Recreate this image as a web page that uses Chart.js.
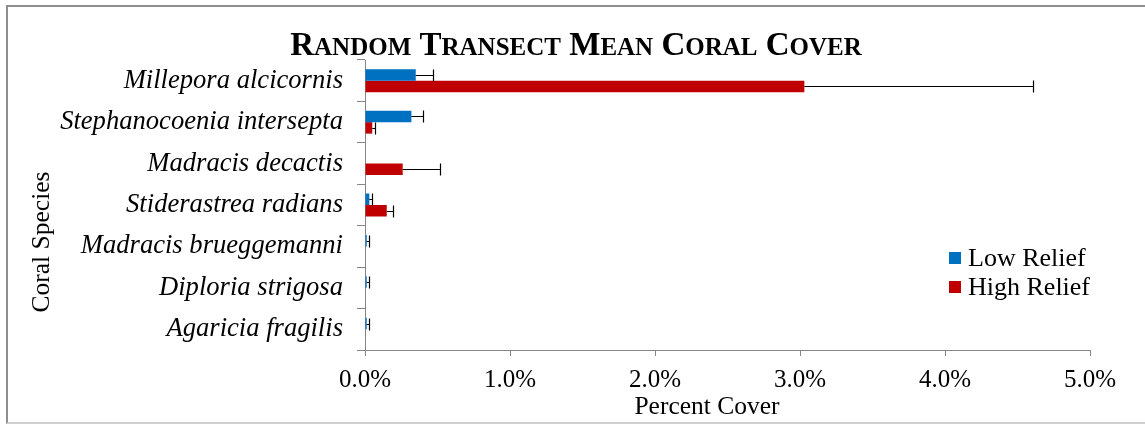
<!DOCTYPE html>
<html lang="en">
<head>
<meta charset="UTF-8">
<title>Random Transect Mean Coral Cover</title>
<script src="https://cdn.jsdelivr.net/npm/chart.js"></script>
<style>
  html, body { margin: 0; padding: 0; background: #fff; }
  #frame { position: absolute; left: 6px; top: 5px; width: 1145px; height: 419px; border: 2px solid #8e8e8e; border-bottom-color: #d0d0d0; box-sizing: border-box; }
  #wrap { position: absolute; left: 0; top: 0; width: 1145px; height: 425px; }
</style>
</head>
<body>
<div id="frame"></div>
<div id="wrap"><canvas id="grafico"></canvas></div>
<script>
// values (percent cover)
const species = ['Millepora alcicornis', 'Stephanocoenia intersepta', 'Madracis decactis',
                 'Stiderastrea radians', 'Madracis brueggemanni', 'Diploria strigosa', 'Agaricia fragilis'];
const lowRelief  = [0.35, 0.32, 0, 0.03, 0.012, 0.012, 0.012];
const lowError   = [0.12, 0.08, null, 0.02, 0.016, 0.016, 0.016];
const highRelief = [3.03, 0.05, 0.26, 0.15, 0, 0, 0];
const highError  = [1.58, 0.02, 0.26, 0.04, null, null, null];
const xTicks = [0, 1, 2, 3, 4, 5];

const serif = "'Liberation Serif', 'Times New Roman', serif";

// positive error bars with caps
const errorBars = {
    id: 'errorBars',
    afterDatasetsDraw(chart) {
        const ctx = chart.ctx;
        const sx = chart.scales.x;
        ctx.save();
        ctx.strokeStyle = '#000';
        ctx.lineWidth = 1.2;
        chart.data.datasets.forEach((ds, i) => {
            chart.getDatasetMeta(i).data.forEach((bar, j) => {
                const e = ds.errors[j];
                if (e == null) return;
                const x0 = sx.getPixelForValue(ds.data[j]);
                const x1 = Math.round(sx.getPixelForValue(ds.data[j] + e)) + 0.5;
                const y = Math.round(bar.y) + 0.5;
                ctx.beginPath();
                ctx.moveTo(x0, y);
                ctx.lineTo(x1, y);
                ctx.moveTo(x1, y - 6);
                ctx.lineTo(x1, y + 6);
                ctx.stroke();
            });
        });
        ctx.restore();
    }
};

// title (small caps), axis titles and legend
const textos = {
    id: 'textos',
    afterDraw(chart) {
        const ctx = chart.ctx;
        ctx.save();
        ctx.fillStyle = '#000';

        // small caps title
        const titulo = 'Random Transect Mean Coral Cover';
        const big = 33, small = Math.round(33 * 0.77);
        const partes = titulo.split('').map(ch => {
            const grande = ch === ' ' || ch === ch.toUpperCase();
            ctx.font = `bold ${grande ? big : small}px ${serif}`;
            const t = ch.toUpperCase();
            return { t, f: ctx.font, w: ctx.measureText(t).width };
        });
        const total = partes.reduce((s, p) => s + p.w, 0);
        let x = 576 - total / 2;
        ctx.textBaseline = 'alphabetic';
        ctx.textAlign = 'left';
        partes.forEach(p => { ctx.font = p.f; ctx.fillText(p.t, x, 55); x += p.w; });

        // axis titles
        ctx.font = `25.5px ${serif}`;
        ctx.textAlign = 'center';
        ctx.textBaseline = 'middle';
        ctx.fillText('Percent Cover', 707, 407);
        ctx.save();
        ctx.translate(42, 242);
        ctx.rotate(-Math.PI / 2);
        ctx.fillText('Coral Species', 0, 0);
        ctx.restore();

        // legend
        ctx.font = `26px ${serif}`;
        ctx.textAlign = 'left';
        chart.data.datasets.forEach((ds, i) => {
            const y = 258 + i * 29;
            ctx.fillStyle = ds.backgroundColor;
            ctx.fillRect(949, y - 6, 12, 12);
            ctx.fillStyle = '#000';
            ctx.fillText(ds.label, 968, y + 1);
        });
        ctx.restore();
    }
};

new Chart(document.getElementById('grafico'), {
    type: 'bar',
    data: {
        labels: species,
        datasets: [
            { label: 'Low Relief', data: lowRelief, errors: lowError, backgroundColor: '#0070C0' },
            { label: 'High Relief', data: highRelief, errors: highError, backgroundColor: '#C00000' }
        ]
    },
    options: {
        indexAxis: 'y',
        responsive: true,
        maintainAspectRatio: false,
        animation: false,
        layout: { padding: { top: 60, right: 55, left: 0, bottom: 0 } },
        datasets: { bar: { categoryPercentage: 0.555, barPercentage: 1 } },
        plugins: { legend: { display: false }, title: { display: false }, tooltip: { enabled: false } },
        scales: {
            x: {
                min: 0,
                max: 5,
                afterFit(scale) { scale.height = 75; },
                afterBuildTicks(scale) { scale.ticks = xTicks.map(v => ({ value: v })); },
                ticks: {
                    color: '#000',
                    padding: 9,
                    font: { family: serif, size: 25 },
                    callback: v => v.toFixed(1) + '%'
                },
                grid: { drawOnChartArea: false, tickLength: 6, color: '#868686' },
                border: { color: '#868686', width: 1 }
            },
            y: {
                afterFit(scale) { scale.width = 365; },
                ticks: {
                    color: '#000',
                    padding: 14,
                    autoSkip: false,
                    font: { family: serif, size: 26.6, style: 'italic' }
                },
                grid: { drawOnChartArea: false, offset: true, tickLength: 8, color: '#868686' },
                border: { color: '#868686', width: 1 }
            }
        }
    },
    plugins: [errorBars, textos]
});
</script>
</body>
</html>
